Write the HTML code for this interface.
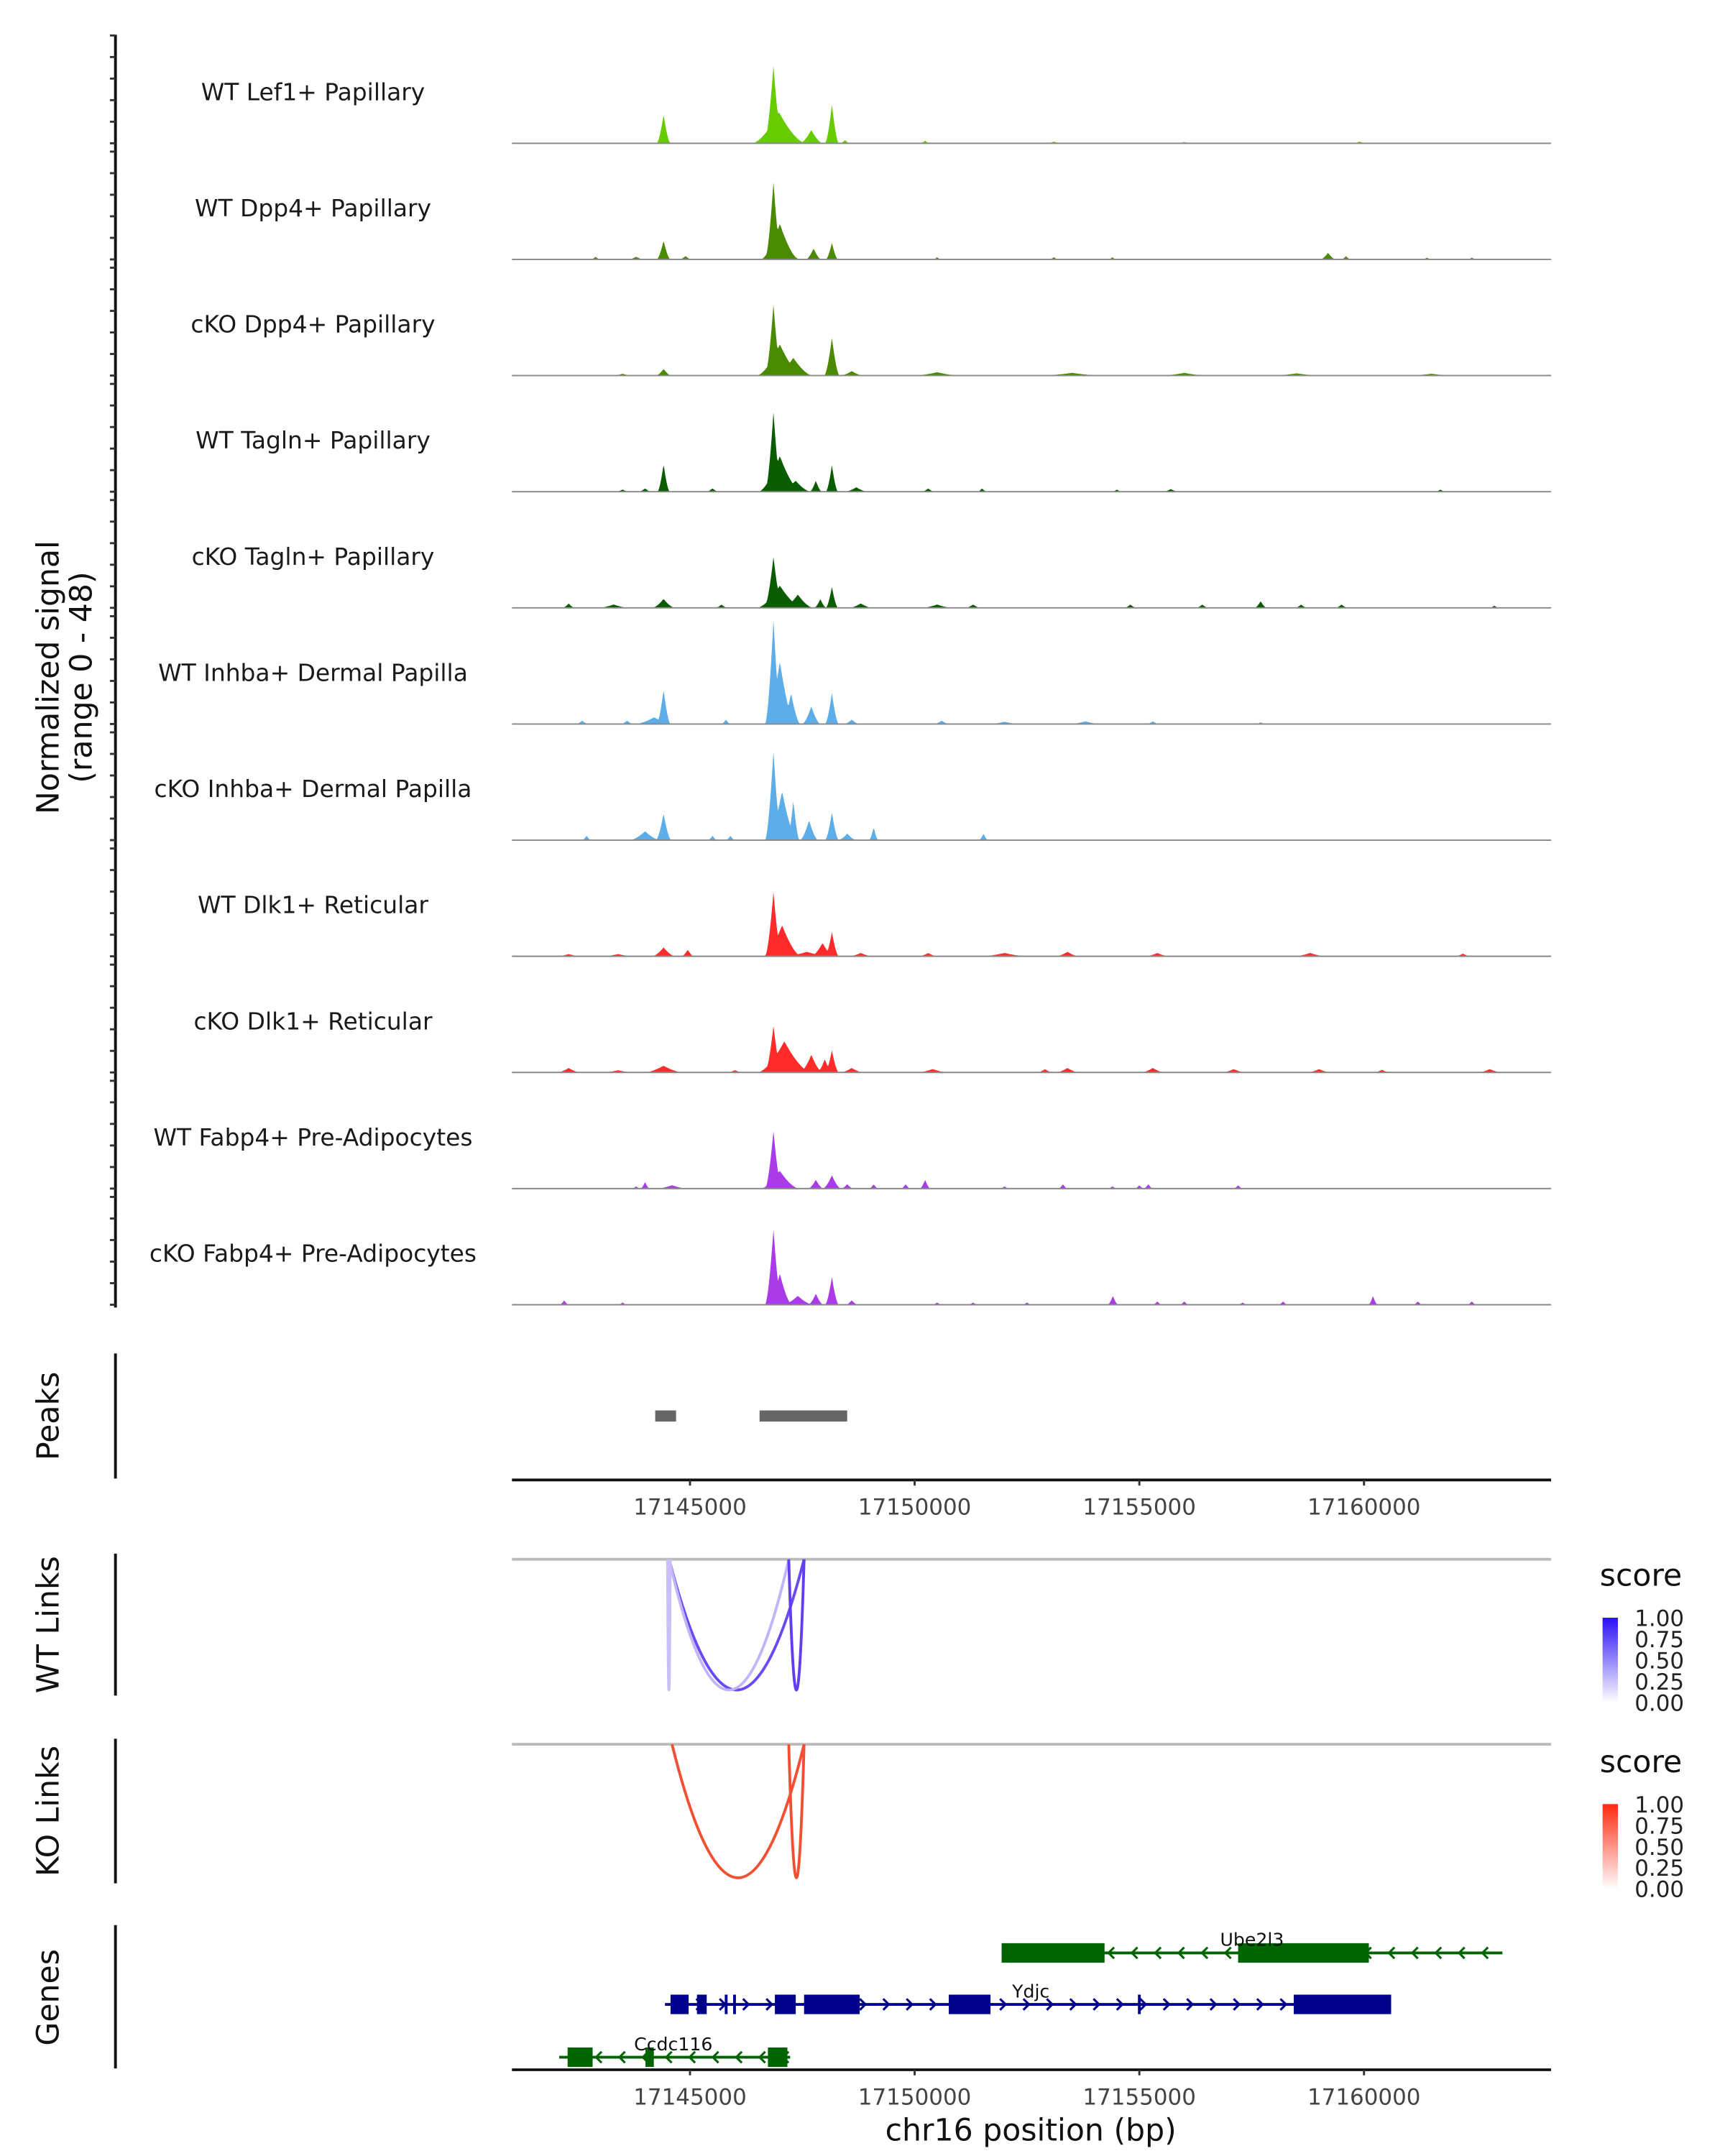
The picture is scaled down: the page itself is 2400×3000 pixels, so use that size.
<!DOCTYPE html>
<html><head><meta charset="utf-8"><style>
html,body{margin:0;padding:0;background:#fff}
svg{display:block}
text{font-family:"DejaVu Sans","Liberation Sans",sans-serif}
</style></head><body>
<svg id="fig" xmlns="http://www.w3.org/2000/svg" width="2400" height="3000" viewBox="0 0 1240 1550">
<g id="tracks"></g>
<g id="peaks"></g>
<g id="links"></g>
<g id="genes"></g>
<text transform="translate(42,487) rotate(-90)" text-anchor="middle" font-size="22" fill="#111">Normalized signal</text>
<text transform="translate(66,487) rotate(-90)" text-anchor="middle" font-size="22" fill="#111">(range 0 - 48)</text>
<text x="741" y="1539" text-anchor="middle" font-size="22" fill="#111">chr16 position (bp)</text>
</svg>
<script>
const NS='http://www.w3.org/2000/svg';
const xTicks=[17145000,17150000,17155000,17160000];
const trackNames=['WT Lef1+ Papillary','WT Dpp4+ Papillary','cKO Dpp4+ Papillary','WT Tagln+ Papillary','cKO Tagln+ Papillary','WT Inhba+ Dermal Papilla','cKO Inhba+ Dermal Papilla','WT Dlk1+ Reticular','cKO Dlk1+ Reticular','WT Fabp4+ Pre-Adipocytes','cKO Fabp4+ Pre-Adipocytes'];
const trackColors=['#66cc00','#4a8a00','#4a8a00','#0a5c00','#0a5c00','#5dade8','#5dade8','#ff2a2a','#ff2a2a','#ab3be8','#ab3be8'];
// peaks: [position bp, height (0-48), half-width bp]
const lef1WT=[[17144412,13,90],[17146858,35,120],[17146980,14,350],[17147136,5,200],[17147700,6,150],[17148158,17.5,90],[17148450,1.5,60],[17150232,1.2,60],[17153100,0.8,80],[17156000,0.6,80],[17159900,0.8,80]];
const dpp4WT=[[17142900,1.2,60],[17143800,1.2,100],[17144412,8.5,90],[17144900,1.5,80],[17146858,35,110],[17147000,16,250],[17147200,4,150],[17147750,5,100],[17148158,7.5,80],[17150500,1,50],[17153100,1,60],[17154400,1,50],[17159200,3,100],[17159600,1.5,60],[17161400,0.8,60],[17162400,0.8,60]];
const dpp4KO=[[17143500,0.8,120],[17144412,3,100],[17146858,32,110],[17147000,14,300],[17147300,8,250],[17148158,17,100],[17148600,2,150],[17150500,1.5,300],[17153500,1.2,400],[17156000,1.2,300],[17158500,1,300],[17161500,0.8,300]];
const taglnWT=[[17143500,1,80],[17144000,1.5,80],[17144412,12.5,80],[17145500,1.5,80],[17146858,36,110],[17147000,16,280],[17147350,5,200],[17147800,5,80],[17148158,12,80],[17148700,2,150],[17150300,1.5,80],[17151500,1.5,60],[17154500,1,60],[17155700,1.2,100],[17161700,1,60]];
const taglnKO=[[17142300,2,80],[17143300,1.5,200],[17144412,4,150],[17145700,1.5,80],[17146858,23,120],[17147000,10,300],[17147400,6,200],[17147900,4,80],[17148158,9.5,80],[17148800,2,150],[17150500,1.5,200],[17151300,1.5,100],[17154800,1.5,80],[17156400,1.5,80],[17157700,3,80],[17158600,1.5,80],[17159500,1.5,80],[17162900,1,60]];
const inhbaWT=[[17142600,1.5,80],[17143600,1.5,80],[17144412,15.5,90],[17144200,3,250],[17145800,2,60],[17146858,47,110],[17147000,28,200],[17147250,14,120],[17147700,8,120],[17148158,14,90],[17148600,2,100],[17150600,1.5,100],[17152000,1,200],[17153800,1.2,200],[17155300,1.2,80],[17157700,0.8,60]];
const inhbaKO=[[17142700,2,60],[17144412,12,100],[17144000,4,200],[17145500,2,60],[17145900,2,60],[17146858,40,110],[17147050,22,200],[17147300,18,80],[17147650,9,120],[17148158,12.5,90],[17148500,3,120],[17149087,6,60],[17151532,3,60]];
const dlk1WT=[[17142300,1,150],[17143400,1,200],[17144412,4,150],[17144950,3,80],[17146858,29,110],[17147050,14,250],[17147600,2,300],[17147950,6,150],[17148158,11,90],[17148800,1.5,150],[17150300,1.5,120],[17152000,1.5,300],[17153400,2,150],[17155400,1.5,150],[17158800,1.5,200],[17162200,1.2,100]];
const dlk1KO=[[17142300,2,150],[17143400,1,200],[17144412,3,250],[17146000,1,100],[17146858,21,110],[17147100,14,350],[17147700,8,150],[17148000,6,100],[17148158,10,90],[17148600,2,150],[17150400,1.5,200],[17152900,1.5,100],[17153400,2,150],[17155300,2,150],[17157100,1.5,150],[17159000,1.5,150],[17160400,1.2,100],[17162800,1.5,150]];
const fabp4WT=[[17143800,1,60],[17144000,3,60],[17144600,1.5,200],[17146858,26,110],[17147000,8,250],[17147800,4,100],[17148158,6,120],[17148500,2,80],[17149087,2,60],[17149800,2,60],[17150232,4,70],[17152000,1,60],[17153300,2,60],[17154400,1,60],[17155000,1.5,60],[17155200,2,60],[17157200,1.5,60]];
const fabp4KO=[[17142200,2,60],[17143500,1,60],[17146858,34,110],[17147000,14,160],[17147400,4,200],[17147800,5,100],[17148158,12.5,90],[17148600,2,80],[17150500,1,60],[17151300,1,60],[17152500,1,60],[17154412,4,70],[17155400,1.5,60],[17156000,1.5,60],[17157300,1,60],[17158200,1.5,60],[17160200,4,60],[17161200,1.5,60],[17162400,1.5,60]];
const trackPeaks=[lef1WT,dpp4WT,dpp4KO,taglnWT,taglnKO,inhbaWT,inhbaKO,dlk1WT,dlk1KO,fabp4WT,fabp4KO];
const peakRegions=[[17144226,17144690],[17146548,17148498]];
const wtLinks=[[17144536,17147539,0.85],[17144536,17147198,0.35],[17147198,17147539,0.9],[17144500,17144560,0.3]];
const koLinks=[[17144600,17147539,0.8],[17147198,17147539,0.8]];
const geneNames=['Ube2l3','Ydjc','Ccdc116'];
const geneSpans=[[17151935,17163081],[17144443,17160604],[17142090,17147229]];
const geneStrands=[-1,1,-1];
const ube2l3Exons=[[17151935,17154226],[17157198,17160108]];
const ydjcExons=[[17144567,17144969],[17145155,17145372],[17145774,17145836],[17145960,17146022],[17146889,17147353],[17147539,17148777],[17150759,17151688],[17154969,17155031],[17158437,17160604]];
const ccdc116Exons=[[17142276,17142833],[17144009,17144195],[17146734,17147167]];
const geneExons=[ube2l3Exons,ydjcExons,ccdc116Exons];

const X0=368,X1=1115;
const xs=bp=>496+(bp-17145000)*0.0323;
const PXU=1.6;
function mk(tag,attrs,parent){const e=document.createElementNS(NS,tag);for(const k in attrs)e.setAttribute(k,attrs[k]);parent.appendChild(e);return e;}
const G=document.getElementById('tracks');
const ax=mk('line',{x1:83,y1:25,x2:83,y2:940,stroke:'#111','stroke-width':2},G);


const bpMin=17141037,bpMax=17164160,step=20;
trackNames.forEach((nm,i)=>{
  const base=103+i*83.5;
  for(let k=0;k<6;k++){const t=mk('line',{x1:79,x2:83,y1:base-k*15.5,y2:base-k*15.5,stroke:'#333','stroke-width':1.5},G);
    
    }
  const lab=mk('text',{x:225,y:base-31,'text-anchor':'middle','font-size':17,fill:'#1a1a1a'},G);
  lab.textContent=nm;
  
  
  const pk=trackPeaks[i];
  let d='M'+X0+','+base;
  for(let b=bpMin;b<=bpMax;b+=step){
    let v=0;for(const p of pk){const w=p[2]*1.7;const f=1-Math.abs(b-p[0])/w;if(f>0)v=Math.max(v,p[1]*Math.pow(f,1.6));}
    d+=' L'+xs(b).toFixed(2)+','+(base-Math.min(v,48)*PXU).toFixed(2);
  }
  d+=' L'+X1+','+base+' Z';
  const a=mk('path',{d:d,fill:trackColors[i]},G);
  
  
  const bl=mk('line',{x1:X0,x2:X1,y1:base,y2:base,stroke:'#888','stroke-width':1},G);
  
  
});
const P=document.getElementById('peaks');
mk('line',{x1:83,y1:973,x2:83,y2:1063,stroke:'#111','stroke-width':2},P);
const pt=mk('text',{transform:'translate(42,1018) rotate(-90)','text-anchor':'middle','font-size':22,fill:'#111'},P);pt.textContent='Peaks';


peakRegions.forEach(r=>{const e=mk('rect',{x:xs(r[0]),y:1014,width:xs(r[1])-xs(r[0]),height:8,fill:'#666'},P);
  
  });
function xAxis(y,parent){
  mk('line',{x1:X0,x2:X1,y1:y,y2:y,stroke:'#111','stroke-width':2},parent);
  xTicks.forEach(t=>{mk('line',{x1:xs(t),x2:xs(t),y1:y,y2:y+4,stroke:'#333','stroke-width':1.5},parent);
    const tx=mk('text',{x:xs(t),y:y+25,'text-anchor':'middle','font-size':16,fill:'#444'},parent);tx.textContent=t;
    
    });
}
xAxis(1064,P);
const L=document.getElementById('links');
function linkPanel(title,top,bottom,links,colorFn,legendTop,grad){
  mk('line',{x1:83,y1:top-4,x2:83,y2:bottom+4,stroke:'#111','stroke-width':2},L);
  const t=mk('text',{transform:'translate(42,'+((top+bottom)/2)+') rotate(-90)','text-anchor':'middle','font-size':22,fill:'#111'},L);t.textContent=title;
  
  
  mk('line',{x1:X0,x2:X1,y1:top,y2:top,stroke:'#bbb','stroke-width':2},L);
  const deep=bottom-top;
  links.forEach(l=>{const x1=xs(l[0]),x2=xs(l[1]);const yc=top+deep*2;const xm=(x1+x2)/2;
    const p=mk('path',{d:`M${x1},${top} Q${xm},${yc} ${x2},${top}`,fill:'none',stroke:colorFn(l[2]),'stroke-width':2},L);
    
    });
  const s=mk('text',{x:1150,y:legendTop,'font-size':22,fill:'#111'},L);s.textContent='score';
  
  
  const g=mk('rect',{x:1152,y:legendTop+23,width:11,height:61,fill:'url(#'+grad+')'},L);
  
  
  ['1.00','0.75','0.50','0.25','0.00'].forEach((v,k)=>{const tx=mk('text',{x:1175,y:legendTop+29+k*15.2,'font-size':16,fill:'#222'},L);tx.textContent=v;
    
    });
}
const defs=mk('defs',{},document.getElementById('fig'));
defs.innerHTML='<linearGradient id="gb" x1="0" y1="1" x2="0" y2="0"><stop offset="0" stop-color="#ffffff"/><stop offset="1" stop-color="#2a0ff5"/></linearGradient><linearGradient id="gr" x1="0" y1="1" x2="0" y2="0"><stop offset="0" stop-color="#ffffff"/><stop offset="1" stop-color="#ff2a10"/></linearGradient>';
function mix(c,s){const r=Math.round(255+(c[0]-255)*s),g=Math.round(255+(c[1]-255)*s),b=Math.round(255+(c[2]-255)*s);return `rgb(${r},${g},${b})`;}
linkPanel('WT Links',1121,1215,wtLinks,s=>mix([80,40,240],s),1140,'gb');
linkPanel('KO Links',1254,1350,koLinks,s=>mix([242,70,40],s/0.8*0.95),1274,'gr');
const GE=document.getElementById('genes');
mk('line',{x1:83,y1:1384,x2:83,y2:1487,stroke:'#111','stroke-width':2},GE);
const gt=mk('text',{transform:'translate(42,1436) rotate(-90)','text-anchor':'middle','font-size':22,fill:'#111'},GE);gt.textContent='Genes';


const rowY=[1404,1441,1479],gcol=['#006400','#00008b','#006400'],labX=[900,741,484];
geneNames.forEach((nm,i)=>{
  const y=rowY[i],c=gcol[i],s=geneSpans[i];
  const g=mk('g',{},GE);
  
  
  mk('line',{x1:xs(s[0]),x2:xs(s[1]),y1:y,y2:y,stroke:c,'stroke-width':2},g);
  for(let b=s[0]+300;b<s[1];b+=520){const x=xs(b),dd=4*geneStrands[i];
    mk('path',{d:`M${x-dd},${y-4} L${x},${y} L${x-dd},${y+4}`,fill:'none',stroke:c,'stroke-width':1.6},g);}
  geneExons[i].forEach(e=>mk('rect',{x:xs(e[0]),y:y-7,width:Math.max(2,xs(e[1])-xs(e[0])),height:14,fill:c},g));
  const t=mk('text',{x:labX[i],y:y-5,'text-anchor':'middle','font-size':13,fill:'#111'},g);t.textContent=nm;
});
xAxis(1488,GE);
</script>
</body></html>
